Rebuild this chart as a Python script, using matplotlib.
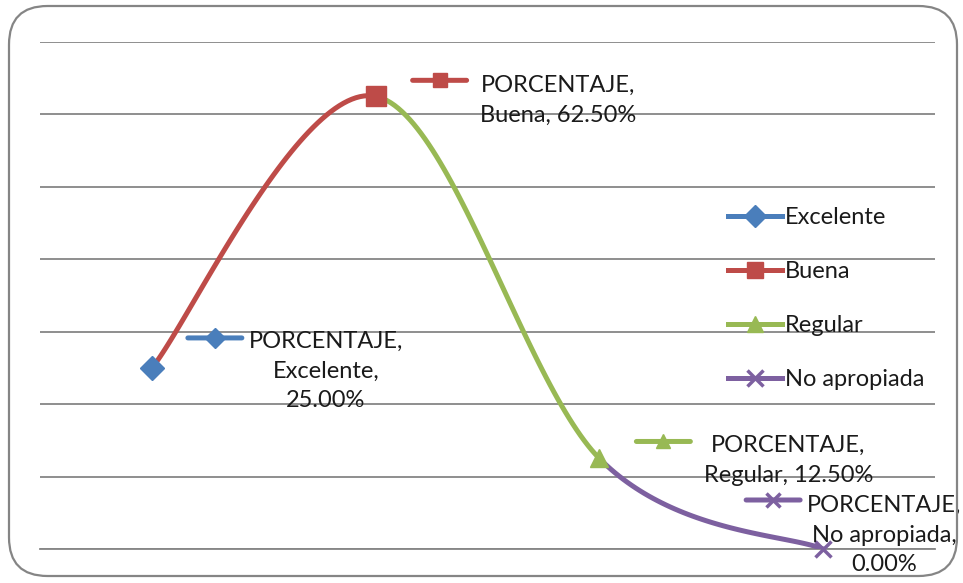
import numpy as np
import matplotlib
matplotlib.use('Agg')
from matplotlib import pyplot as plt
from matplotlib.lines import Line2D
from matplotlib.patches import FancyBboxPatch
from matplotlib.transforms import offset_copy

plt.rcParams['font.family'] = ['Lato', 'DejaVu Sans']

categorias = ['Excelente', 'Buena', 'Regular', 'No apropiada']
porcentaje = [25.0, 62.5, 12.5, 0.0]
colores = ['#4a7ebb', '#be4b48', '#98b954', '#7d60a0']
marcadores = ['D', 's', '^', 'x']
marker_sizes = [12, 14, 13, 12]

# label layout: (key dx, key dy, text dx, text dy) in pixels, y up
label_layout = [
    (63, 30, 174, -3),
    (64, 16, 182, -4),
    (64, 17, 189, -2),
    (-50, 49, 61, 14),
]

fig = plt.figure(figsize=(9.63, 5.83), dpi=100)
W, H = 963, 583

# rounded chart border
fig.patches.append(FancyBboxPatch((9 / W, 7 / H), 948 / W, 570 / H,
                                  boxstyle='round,pad=0,rounding_size=0.04',
                                  transform=fig.transFigure, fill=False,
                                  edgecolor='#858585', linewidth=1.6,
                                  mutation_aspect=W / H))

ax = fig.add_axes([40 / W, 1 - 549 / H, 895 / W, 507 / H])
ax.set_xlim(-0.5, 3.5)
ax.set_ylim(0, 70)
ax.set_yticks(np.arange(0, 71, 10))
ax.yaxis.grid(True, color='#868686', linewidth=1.3)
ax.set_axisbelow(True)
ax.tick_params(left=False, bottom=False, labelleft=False, labelbottom=False)
for s in ax.spines.values():
    s.set_visible(False)
ax.spines['bottom'].set_visible(True)
ax.spines['bottom'].set_color('#868686')
ax.spines['bottom'].set_linewidth(1.3)

# smoothed line (Catmull-Rom style bezier between points)
x = np.arange(len(porcentaje), dtype=float)
y = np.array(porcentaje)
pts = np.column_stack([x, y])
t = np.linspace(0, 1, 60)[:, None]
for i in range(len(pts) - 1):
    p0 = pts[i]
    p3 = pts[i + 1]
    prev = pts[max(i - 1, 0)]
    nxt = pts[min(i + 2, len(pts) - 1)]
    c1 = p0 + (p3 - prev) / 6
    c2 = p3 - (nxt - p0) / 6
    curve = ((1 - t) ** 3 * p0 + 3 * (1 - t) ** 2 * t * c1
             + 3 * (1 - t) * t ** 2 * c2 + t ** 3 * p3)
    ax.plot(curve[:, 0], curve[:, 1], color=colores[i + 1], linewidth=3.6,
            solid_capstyle='round', zorder=3)

for i, cat in enumerate(categorias):
    mew = 2.5 if marcadores[i] == 'x' else 1
    ax.plot(x[i], y[i], marker=marcadores[i], color=colores[i],
            markersize=marker_sizes[i], markeredgewidth=mew, zorder=4,
            clip_on=False)

    kdx, kdy, tdx, tdy = label_layout[i]
    tr_key = offset_copy(ax.transData, fig=fig, x=kdx, y=kdy, units='dots')
    ax.add_line(Line2D([x[i]], [y[i]], transform=tr_key, marker=marcadores[i],
                       color=colores[i], markersize=10, markeredgewidth=mew,
                       linestyle='none', zorder=5, clip_on=False))
    tr_l = offset_copy(ax.transData, fig=fig, x=kdx - 27, y=kdy, units='dots')
    tr_r = offset_copy(ax.transData, fig=fig, x=kdx + 27, y=kdy, units='dots')
    # short key segment drawn as two halves around the marker
    ax.annotate('', xy=(x[i], y[i]), xycoords=tr_l,
                xytext=(x[i], y[i]), textcoords=tr_r,
                arrowprops=dict(arrowstyle='-', color=colores[i], lw=3.6,
                                shrinkA=0, shrinkB=0, capstyle='round'),
                annotation_clip=False)
    if cat == 'Buena' or cat == 'Regular':
        texto = f'PORCENTAJE,\n{cat}, {porcentaje[i]:.2f}%'
    else:
        texto = f'PORCENTAJE,\n{cat},\n{porcentaje[i]:.2f}%'
    tr_t = offset_copy(ax.transData, fig=fig, x=tdx, y=tdy, units='dots')
    ax.text(x[i], y[i], texto, transform=tr_t, ha='center', va='center',
            multialignment='center', fontsize=17, color='#1a1a1a',
            linespacing=1.5, zorder=6, clip_on=False)

handles = [Line2D([], [], color=c, marker=m, markersize=11, linewidth=3.6,
                  markeredgewidth=2.5 if m == 'x' else 1)
           for c, m in zip(colores, marcadores)]
ax.legend(handles, categorias, loc='upper left',
          bbox_to_anchor=(728 / W, 1 - 207 / H), bbox_transform=fig.transFigure,
          frameon=False, fontsize=17, handlelength=2.3, handletextpad=0.1,
          labelspacing=1.4, borderpad=0, borderaxespad=0, labelcolor='#1a1a1a')

fig.savefig('out.png', dpi=100)
